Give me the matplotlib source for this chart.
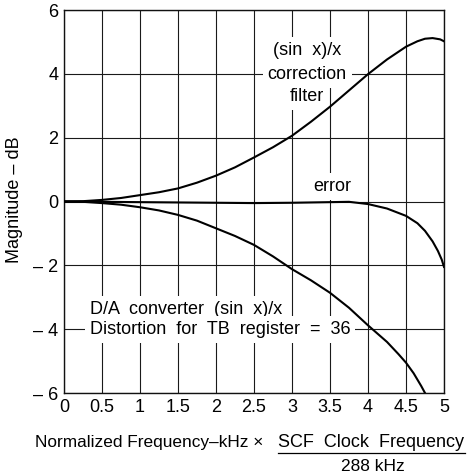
import matplotlib
matplotlib.use("Agg")
import matplotlib.pyplot as plt
from matplotlib.lines import Line2D
import numpy as np

plt.rcParams['font.family'] = ['Liberation Sans', 'DejaVu Sans']

# (sin x)/x correction filter response, dB
corr_f = [0, 0.25, 0.5, 0.75, 1.0, 1.25, 1.5, 1.75, 2.0, 2.25, 2.5, 2.75, 3.0,
          3.25, 3.5, 3.75, 4.0, 4.25, 4.5, 4.65, 4.75, 4.85, 4.95, 5.0]
corr_db = [0, 0.01, 0.05, 0.11, 0.2, 0.29, 0.41, 0.59, 0.81, 1.07, 1.38, 1.7, 2.06,
           2.5, 2.97, 3.48, 3.99, 4.45, 4.85, 5.02, 5.1, 5.12, 5.08, 5.02]

# D/A converter (sin x)/x distortion, dB
da_f = [0, 0.25, 0.5, 0.75, 1.0, 1.25, 1.5, 1.75, 2.0, 2.25, 2.5, 2.75, 3.0,
        3.25, 3.5, 3.75, 4.0, 4.25, 4.4, 4.5, 4.6, 4.7, 4.75]
da_db = [0, -0.01, -0.05, -0.1, -0.18, -0.28, -0.42, -0.6, -0.84, -1.08, -1.36, -1.72, -2.12,
         -2.47, -2.86, -3.33, -3.88, -4.4, -4.78, -5.05, -5.38, -5.78, -6.0]

# residual error, dB
err_f = [0, 0.5, 1.0, 1.5, 2.0, 2.5, 3.0, 3.5, 3.75, 4.0, 4.25, 4.5, 4.65, 4.75,
         4.85, 4.92, 4.97, 5.0]
err_db = [0, -0.01, -0.02, -0.03, -0.04, -0.05, -0.04, -0.02, -0.01, -0.08, -0.22, -0.45,
          -0.68, -0.92, -1.25, -1.55, -1.82, -2.05]

x_ticks = [0, 0.5, 1, 1.5, 2, 2.5, 3, 3.5, 4, 4.5, 5]
x_tick_labels = ["0", "0.5", "1", "1.5", "2", "2.5", "3", "3.5", "4", "4.5", "5"]
y_ticks = [-6, -4, -2, 0, 2, 4, 6]
y_tick_labels = ["\u2013 6", "\u2013 4", "\u2013 2", "0", "2", "4", "6"]

W, H = 467, 473
fig = plt.figure(figsize=(W / 100, H / 100), dpi=100)
ax = fig.add_axes([64 / W, 1 - 393 / H, 380 / W, 383 / H])

ax.set_xlim(0, 5)
ax.set_ylim(-6, 6)
ax.set_xticks(x_ticks)
ax.set_xticklabels(x_tick_labels)
ax.set_yticks(y_ticks)
ax.set_yticklabels(y_tick_labels)
ax.tick_params(length=0, labelsize=13, pad=4)
ax.grid(True, color='#1a1a1a', lw=0.8)
for s in ax.spines.values():
    s.set_linewidth(1.0)
    s.set_color('#111111')

lw = 1.5
ax.plot(corr_f, corr_db, color='black', lw=lw, zorder=5)
ax.plot(da_f, da_db, color='black', lw=lw, zorder=5)
ax.plot(err_f, err_db, color='black', lw=lw, zorder=5)

box = dict(facecolor='white', edgecolor='none', pad=3.5)
tkw = dict(fontsize=13, zorder=4, bbox=box)
ax.text(3.2, 4.73, "(sin  x)/x", ha='center', va='center', **tkw)
ax.text(3.2, 3.98, "correction", ha='center', va='center', **tkw)
ax.text(3.2, 3.29, "filter", ha='center', va='center', **tkw)
ax.text(3.53, 0.48, "error", ha='center', va='center', **tkw)
ax.text(0.34, -3.37, "D/A  converter  (sin  x)/x", ha='left', va='center', **tkw)
ax.text(0.34, -4.0, "Distortion  for  TB  register  =  36", ha='left', va='center', **tkw)

def fy(py):
    return 1 - py / H

# axis titles
fig.text(15 / W, fy(200), "Magnitude \u2013 dB", fontsize=13, rotation=90,
         ha='center', va='center')
fig.text(35 / W, fy(443), "Normalized Frequency\u2013kHz \u00d7", fontsize=12.4,
         ha='left', va='center')
fig.text(371.5 / W, fy(442), "SCF  Clock  Frequency", fontsize=13, ha='center', va='center')
fig.add_artist(Line2D([278 / W, 465 / W], [fy(453), fy(453)], color='black', lw=0.9,
                      transform=fig.transFigure))
fig.text(373 / W, fy(466), "288 kHz", fontsize=12.5, ha='center', va='center')

fig.savefig("out.png", dpi=100)
